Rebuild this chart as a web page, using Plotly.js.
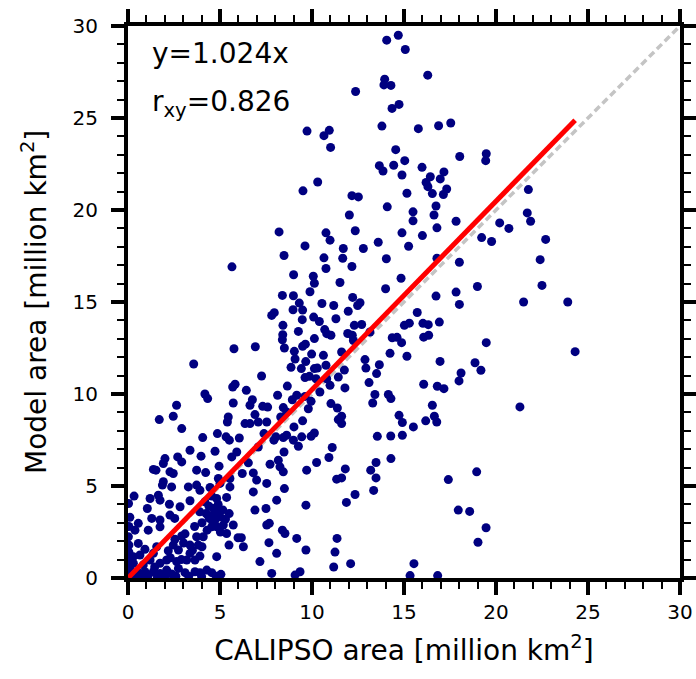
<!DOCTYPE html>
<html>
<head>
<meta charset="utf-8">
<script src="https://cdn.plot.ly/plotly-3.0.1.min.js"></script>
<style>html,body{margin:0;padding:0;background:#fff;}#chart{width:696px;height:679px;}</style>
</head>
<body>
<div id="chart"></div>
<script>
// CALIPSO area (x) and Model area (y), million km^2
const calipso = [
14.69,14.06,15.07,16.29,13.95,13.91,14.29,12.37,14.73,14.35,13.80,15.78,16.88,17.54,9.73,10.94,10.65,11.01,14.55,18.03,
19.47,19.44,13.66,13.86,14.44,15.04,14.89,15.98,16.43,17.17,16.97,16.20,16.30,17.32,17.14,16.54,15.16,10.31,9.51,12.17,
12.52,14.09,15.49,16.74,12.03,16.63,
21.76,21.70,20.2,20.7,22.7,22.4,22.5,21.5,23.9,24.3,21.88,21.3,
8.21,9.62,8.48,5.65,9.00,10.07,10.13,9.89,8.39,8.99,9.31,8.97,9.49,7.95,7.81,9.47,10.09,8.42,9.26,8.41,
8.39,8.50,9.49,9.64,10.13,9.04,9.98,9.08,9.66,8.86,9.42,10.13,9.62,9.86,5.76,6.92,3.57,7.26,5.82,5.69,
6.43,8.66,4.18,8.13,9.17,
15.49,17.83,16.79,10.76,12.35,14.89,16.0,10.98,13.60,15.25,11.70,12.79,19.22,19.76,10.65,11.67,14.04,16.79,12.17,10.76,
18.01,11.52,14.84,14.0,18.99,17.83,16.74,18.01,12.21,10.54,11.18,12.61,12.48,11.97,15.72,10.40,11.30,12.30,12.70,15.02,
15.29,16.03,16.32,16.92,10.69,10.80,11.03,11.94,12.19,12.25,13.15,14.36,14.62,16.07,16.34,14.87,19.47,10.62,11.61,14.24,
15.16,10.29,10.76,11.76,12.88,12.93,13.66,13.51,16.96,18.86,19.18,18.10,17.99,10.22,10.80,11.43,10.98,11.79,13.10,16.07,
16.81,17.17,10.43,13.42,14.15,
4.33,5.72,6.76,6.63,2.64,7.32,7.59,8.44,8.93,9.62,1.70,2.46,2.92,5.45,5.40,6.90,6.36,6.63,7.08,7.54,
8.30,8.62,9.49,9.80,9.02,4.86,5.33,5.51,6.05,4.06,7.39,8.04,8.44,8.62,8.99,9.44,9.26,7.93,3.37,3.97,
4.73,5.91,5.64,7.08,8.48,2.01,1.92,2.70,2.92,1.38,1.52,2.28,2.46,3.73,4.22,4.95,4.91,5.54,6.21,6.54,
6.81,7.72,8.17,8.26,8.44,9.71,1.87,2.37,1.92,3.28,3.73,3.91,4.46,5.00,5.54,7.54,8.50,6.81,0.33,0.03,
1.20,1.65,1.74,1.05,2.25,3.37,2.83,4.18,4.55,4.82,5.36,4.64,4.24,4.73,5.00,4.42,4.73,5.00,4.82,5.18,
5.72,4.55,5.36,5.98,6.16,5.49,4.82,4.09,3.73,3.82,3.37,2.92,2.46,2.74,2.19,3.37,3.19,3.64,3.91,1.74,
2.28,2.54,1.29,1.74,1.10,0.56,0.38,0.02,0.05,0.56,0.92,1.38,1.56,0.65,0.29,0.03,0.29,0.11,0.83,1.20,
1.74,2.10,2.64,2.74,2.10,1.38,0.92,0.56,0.11,1.74,2.37,3.10,3.64,3.91,4.28,4.55,6.27,7.17,7.50,7.54,
7.68,8.08,7.66,8.39,8.53,8.08,9.17,9.67,9.67,6.90,7.81,9.35,9.08,6.99,
9.95,11.03,11.38,11.61,11.43,11.61,13.30,14.29,14.73,14.91,15.51,16.18,16.65,16.78,16.54,10.13,9.95,13.55,14.28,14.91,
11.10,10.92,10.25,13.48,14.29,13.19,13.48,11.81,11.34,11.61,13.35,12.34,11.87,17.41,18.95,17.95,18.57,19.46,19.02,11.36,
11.25,11.18,12.10,15.54,15.33,16.83,
4.02,4.30,4.62,5.02,5.30,4.40,3.90,5.50,4.90,3.62,2.90,3.02,3.50,2.30,4.02,0.30,0.70,1.10,1.60,2.00,
2.60,3.30,4.00,4.80,5.05,0.05,0.05,0.05,0.10,0.20,3.10,4.35,5.15,2.55,1.45
];
const model = [
29.50,29.23,28.72,27.33,27.11,26.80,26.77,26.44,25.74,25.52,24.56,24.42,24.58,24.73,24.29,24.33,24.04,23.40,23.28,22.91,
23.06,22.68,22.41,22.12,22.43,22.68,21.90,22.32,21.81,22.07,21.69,21.50,21.27,21.14,20.84,20.89,20.91,21.52,21.04,20.78,
20.71,20.17,19.90,20.22,19.73,19.73,
21.11,19.84,19.3,19.0,18.4,17.3,15.9,15.0,15.0,12.3,19.39,9.3,
18.81,18.05,17.53,16.91,16.48,16.40,16.02,15.56,15.36,15.34,14.94,14.58,14.56,14.42,14.27,14.04,14.18,13.73,13.40,13.22,
12.95,12.50,12.59,12.71,13.01,12.32,12.17,11.90,11.76,11.45,11.38,11.38,10.89,10.96,12.46,12.57,11.63,10.98,10.53,10.38,
10.20,10.43,10.00,9.93,9.93,
19.41,19.39,19.03,18.76,18.87,18.76,18.61,18.36,18.25,18.03,17.91,17.91,18.50,18.29,17.40,17.38,17.35,17.38,16.93,16.82,
17.16,16.06,16.29,15.72,15.84,15.54,15.32,14.87,15.25,14.92,14.81,14.96,14.81,14.50,14.43,13.94,14.09,13.73,13.78,13.73,
13.85,13.84,13.77,13.91,13.50,13.28,13.19,13.29,13.19,12.91,13.37,13.06,13.08,13.09,13.19,12.79,12.79,12.10,12.28,12.21,
12.05,11.41,11.56,11.30,11.87,11.41,11.59,11.11,11.77,11.70,11.29,11.14,10.71,10.83,10.83,10.92,10.47,10.33,10.62,10.53,
10.42,10.29,10.11,9.97,9.97,
9.75,9.51,9.69,9.39,9.39,9.33,9.29,9.26,9.69,9.87,8.61,8.79,8.12,8.75,8.48,8.88,8.39,8.39,8.48,8.48,
8.75,9.02,8.54,9.20,8.21,7.85,7.67,7.49,7.61,7.63,7.85,7.67,7.63,7.76,7.49,7.67,7.16,7.49,6.94,6.62,
6.89,6.85,6.58,7.12,6.85,6.49,6.22,6.58,6.31,5.90,5.86,5.77,5.68,5.86,5.73,6.08,5.41,5.41,5.68,6.26,
5.71,6.18,6.40,6.04,5.77,5.86,5.05,4.95,5.23,4.95,5.05,4.77,4.92,5.14,4.95,5.14,4.86,4.68,4.45,4.05,
4.32,4.50,4.23,3.78,4.01,4.20,3.87,4.14,4.45,4.32,4.38,3.78,3.51,3.51,3.65,3.24,3.15,3.33,2.78,2.88,
2.88,2.78,2.42,2.19,2.19,1.79,1.16,2.24,2.24,1.79,1.79,2.28,1.79,1.52,1.48,1.34,0.98,0.98,1.19,3.15,
3.42,3.24,3.24,2.78,2.60,2.97,2.60,2.24,1.79,1.88,1.56,1.34,1.70,1.25,1.16,0.98,0.80,0.52,0.71,0.98,
0.80,0.98,0.89,0.52,0.43,0.34,0.34,0.29,0.16,0.25,0.22,0.29,0.34,0.29,0.43,0.29,1.70,0.89,3.78,2.88,
2.97,4.23,1.92,2.60,2.42,1.34,2.15,1.52,3.96,3.69,0.25,0.34,0.16,5.32,
9.60,9.48,9.24,8.79,8.61,8.39,9.51,9.75,8.84,8.45,8.21,8.54,8.79,8.48,9.39,7.88,7.70,7.70,7.72,7.76,
7.09,6.55,6.28,6.28,6.49,5.86,5.44,5.93,5.37,5.44,4.76,4.54,4.11,5.35,5.77,3.69,3.62,2.73,1.94,2.15,
1.41,0.60,0.78,0.78,0.13,0.13,
3.00,2.60,3.00,2.50,3.20,3.90,3.60,3.50,4.00,2.80,1.00,1.90,1.50,1.10,1.70,0.05,0.10,0.15,0.05,0.10,
0.10,0.10,0.08,0.10,0.20,0.60,1.40,2.80,3.30,0.30,2.40,3.40,3.70,2.10,0.60
];
const slope = 1.024;
const rxy = 0.826;
const axisRange = [0, 30];
const tickVals = [0, 5, 10, 15, 20, 25, 30];
const xTitle = 'CALIPSO area [million km<sup>2</sup>]';
const yTitle = 'Model area [million km<sup>2</sup>]';

const xmin = Math.min(...calipso), xmax = Math.max(...calipso);

const FONT = 'DejaVu Sans, Arial, sans-serif';
// layout geometry (px)
const W = 696, H = 679, ML = 98, MR = 16, MT = 26, MB = 101, LABEL_GAP = 30;
const plotW = W - ML - MR;
const xDomainStart = LABEL_GAP / plotW;

function axisBase() {
  return {
    range: axisRange, tickvals: tickVals, ticktext: tickVals.map(String),
    showgrid: false, zeroline: false, fixedrange: true,
    tickfont: {family: FONT, size: 20, color: '#000'}
  };
}
function framedAxis(extra) {
  return Object.assign(axisBase(), {
    showline: true, linecolor: '#000', linewidth: 4,
    mirror: 'ticks', ticks: 'outside', ticklen: 13, tickwidth: 4, tickcolor: '#000',
    minor: {dtick: 1, ticks: 'outside', ticklen: 7, tickwidth: 2, tickcolor: '#000', showgrid: false}
  }, extra);
}

const traces = [
  {x: axisRange, y: axisRange, mode: 'lines', line: {color: '#c4c4c4', width: 3.5, dash: '7px,4px'}, hoverinfo: 'skip', showlegend: false},
  {x: calipso, y: model, mode: 'markers', marker: {color: '#000080', size: 9}, showlegend: false},
  {x: [xmin, xmax], y: [slope * xmin, slope * xmax], mode: 'lines', line: {color: '#ff0000', width: 5}, showlegend: false},
  // carrier for the y tick-label axis
  {x: [], y: [], yaxis: 'y2', mode: 'markers', showlegend: false, hoverinfo: 'skip'}
];

const layout = {
  width: W, height: H,
  margin: {l: ML, r: MR, t: MT, b: MB},
  paper_bgcolor: '#fff', plot_bgcolor: '#fff',
  xaxis: framedAxis({domain: [xDomainStart, 1],
    title: {text: xTitle, font: {family: FONT, size: 28, color: '#000'}, standoff: 18}}),
  yaxis: framedAxis({anchor: 'x', showticklabels: false, title: {text: ''}}),
  yaxis2: Object.assign(axisBase(), {overlaying: 'y', anchor: 'free', position: 0, side: 'left',
    showline: false, ticks: '', showticklabels: true}),
  showlegend: false,
  annotations: [
    {xref: 'paper', yref: 'paper', x: (34 - ML) / plotW, y: 0.5, xanchor: 'center', yanchor: 'middle', showarrow: false,
     textangle: -90, text: yTitle, font: {family: FONT, size: 28, color: '#000'}},
    {xref: 'paper', yref: 'paper', x: (150 - ML) / plotW, y: 0.95, xanchor: 'left', yanchor: 'middle', showarrow: false,
     text: 'y=' + slope.toFixed(3) + 'x', font: {family: FONT, size: 28, color: '#000'}},
    {xref: 'paper', yref: 'paper', x: (150 - ML) / plotW, y: 0.86, xanchor: 'left', yanchor: 'middle', showarrow: false,
     text: 'r<sub>xy</sub>=' + rxy.toFixed(3), font: {family: FONT, size: 28, color: '#000'}}
  ]
};

Plotly.newPlot('chart', traces, layout, {staticPlot: true, displayModeBar: false});
</script>
</body>
</html>
